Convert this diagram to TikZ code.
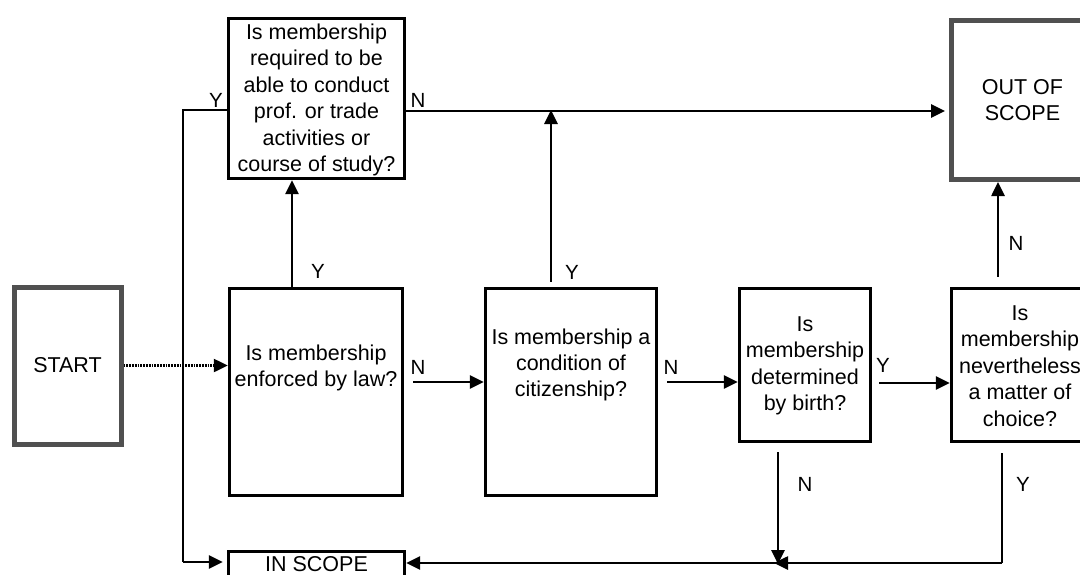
\documentclass[tikz,border=0pt]{standalone}
\usepackage{fontspec}
\setmainfont{Liberation Sans}
\usetikzlibrary{arrows.meta,calc}
\definecolor{boxgray}{HTML}{505050}
\begin{document}
\begin{tikzpicture}[x=1pt,y=-1pt,
  qbox/.style={draw=black,line width=3.4pt,rectangle,inner sep=0pt},
  gbox/.style={draw=boxgray,line width=5pt,rectangle,inner sep=0pt},
  btext/.style={align=center,inner sep=0pt,font=\fontsize{21.5}{26.4}\selectfont},
  lab/.style={inner sep=0pt,font=\fontsize{20.5}{24}\selectfont},
  arr/.style={line width=2.6pt,-{Triangle[length=14pt,width=13pt]}},
  thinline/.style={line width=1.5pt},
  dotarr/.style={line width=2.3pt,dash pattern=on 1.8pt off 1pt,-{Triangle[length=14pt,width=13pt]}}
]
\useasboundingbox (0,0) rectangle (1080,574);
% boxes
\node[gbox,minimum width=107pt,minimum height=157pt] (start) at (67.5,365.5) {};
\node[btext] (starttext) at (67.5,365.5) {START};
\node[qbox,minimum width=176pt,minimum height=160pt] (q1) at (316.5,98.5) {};
\node[btext] (q1text) at (316.5,100) {Is membership\\required to be\\able to conduct\\prof. or trade\\activities or\\course of study?};
\node[gbox,minimum width=142.5pt,minimum height=159pt] (out) at (1022.75,100) {};
\node[btext] (outtext) at (1022.5,100) {OUT OF\\SCOPE};
\node[qbox,minimum width=173pt,minimum height=207pt] (b1) at (316,392) {};
\node[btext] (b1text) at (316,368) {Is membership\\enforced by law?};
\node[qbox,minimum width=171pt,minimum height=207pt] (b2) at (571,392) {};
\node[btext] (b2text) at (571,365) {Is membership a\\condition of\\citizenship?};
\node[qbox,minimum width=131pt,minimum height=153pt] (b3) at (805,365) {};
\node[btext] (b3text) at (805,366) {Is\\membership\\determined\\by birth?};
\node[qbox,minimum width=140.5pt,minimum height=153pt] (b4) at (1021.75,365) {};
\node[btext] (b4text) at (1020,366) {Is\\membership\\nevertheless\\a matter of\\choice?};
\node[qbox,minimum width=176pt,minimum height=39pt] (in) at (316.5,570.75) {};
\node[btext] (intext) at (316.5,564) {IN SCOPE};
% junction coordinates
\coordinate (jq) at (551,111);
\coordinate (jb) at (778,563);
\coordinate (cr) at (1002,563);
\coordinate (cl) at (183,562);
% connectors
\draw[dotarr] (start.east) -- (start.east -| b1.west);
\draw[arr] ([xshift=-24pt]b1.north) -- ([xshift=-24pt]b1.north |- q1.south);
\draw[arr,shorten >=4pt] ([yshift=-12.5pt]q1.east) -- ([yshift=-12.5pt]q1.east -| out.west);
\draw[arr,shorten <=5pt,shorten >=-1pt] ([xshift=-20pt]b2.north) -- (jq);
\draw[arr,shorten <=9pt] ([yshift=10pt]b1.east) -- ([yshift=10pt]b1.east -| b2.west);
\draw[arr,shorten <=9pt] ([yshift=10pt]b2.east) -- ([yshift=10pt]b2.east -| b3.west);
\draw[arr,shorten <=7pt] ([yshift=-18pt]b3.east) -- ([yshift=-18pt]b3.east -| b4.west);
\draw[arr,shorten <=10pt] ([xshift=-23.75pt]b4.north) -- ([xshift=-23.75pt]b4.north |- out.south);
\draw[arr,shorten <=9pt,shorten >=-1pt] ([xshift=-27pt]b3.south) -- (jb);
\draw[thinline,shorten <=10pt] ([xshift=-19.75pt]b4.south) -- (cr);
\draw[arr,shorten >=-4pt] (cr) -- (jb);
\draw[arr] (jb) -- (jb -| in.east);
\draw[thinline] ([yshift=-11.5pt]q1.west) -| (cl);
\draw[arr,shorten >=4pt] (cl) -- (cl -| in.west);
% labels
\node[lab] (ly1) at (216,100) {Y};
\node[lab] (ln1) at (418,100) {N};
\node[lab] (ly2) at (318,271) {Y};
\node[lab] (ly3) at (572,272) {Y};
\node[lab] (ln2) at (418,367) {N};
\node[lab] (ln3) at (671,367) {N};
\node[lab] (ly4) at (883,365) {Y};
\node[lab] (ln4) at (1016,243) {N};
\node[lab] (ln5) at (805,484) {N};
\node[lab] (ly5) at (1023,484) {Y};
\end{tikzpicture}
\end{document}
